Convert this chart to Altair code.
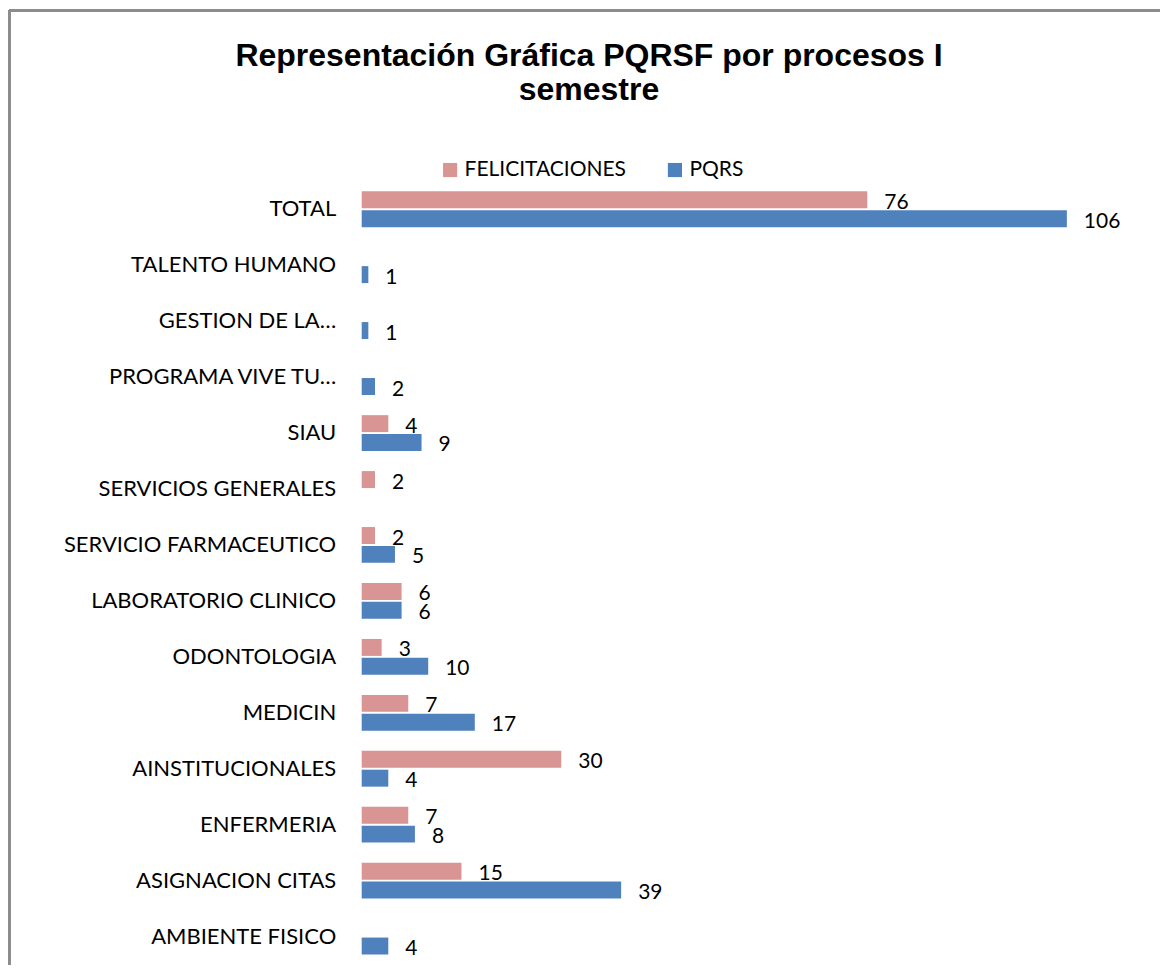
import altair as alt
import pandas as pd

categories = [
    "TOTAL", "TALENTO HUMANO", "GESTION DE LA…", "PROGRAMA VIVE TU…", "SIAU",
    "SERVICIOS GENERALES", "SERVICIO FARMACEUTICO", "LABORATORIO CLINICO",
    "ODONTOLOGIA", "MEDICIN", "AINSTITUCIONALES", "ENFERMERIA",
    "ASIGNACION CITAS", "AMBIENTE FISICO",
]
felicitaciones = [76, None, None, None, 4, 2, 2, 6, 3, 7, 30, 7, 15, None]
pqrs = [106, 1, 1, 2, 9, None, 5, 6, 10, 17, 4, 8, 39, 4]
series = ["FELICITACIONES", "PQRS"]
colors = ["#D99594", "#4F81BD"]

rows = []
for i, c in enumerate(categories):
    if felicitaciones[i] is not None:
        rows.append({"proceso": c, "serie": series[0], "valor": felicitaciones[i]})
    if pqrs[i] is not None:
        rows.append({"proceso": c, "serie": series[1], "valor": pqrs[i]})
df = pd.DataFrame(rows)

FONT = "Lato"
STEP = 56
H = STEP * len(categories)
W = 799

y_enc = alt.Y("proceso:N", sort=categories,
              scale=alt.Scale(paddingInner=0.36, paddingOuter=0.18),
              axis=alt.Axis(title=None, ticks=False, domain=False, grid=False,
                            labelPadding=26, labelFontSize=22, labelFont=FONT,
                            labelColor="#000000", labelLimit=340))
yoff = alt.YOffset("serie:N", sort=series, scale=alt.Scale(paddingInner=0.1))

bars = alt.Chart(df).mark_bar().encode(
    x=alt.X("valor:Q", scale=alt.Scale(domain=[0, 120]), axis=None),
    y=y_enc,
    yOffset=yoff,
    color=alt.Color("serie:N", sort=series,
                    scale=alt.Scale(domain=series, range=colors),
                    legend=alt.Legend(title=None, orient="none", direction="horizontal",
                                      legendX=78, legendY=-22, symbolType="square",
                                      symbolSize=200, symbolStrokeWidth=0,
                                      labelFontSize=21, labelFont=FONT, labelLimit=300,
                                      labelColor="#000000", columnPadding=38)),
)

labels = alt.Chart(df).mark_text(align="left", baseline="middle", dx=17, dy=3,
                                  fontSize=21, font=FONT, color="#000000").encode(
    x=alt.X("valor:Q"),
    y=alt.Y("proceso:N", sort=categories),
    yOffset=yoff,
    text=alt.Text("valor:Q"),
)

left_border = alt.Chart(df).mark_rule(color="#8c8c8c", strokeWidth=3).encode(
    x=alt.value(-353), y=alt.value(-171), y2=alt.value(H + 10))
top_border = alt.Chart(df).mark_rule(color="#8c8c8c", strokeWidth=3).encode(
    x=alt.value(-353), x2=alt.value(W + 10), y=alt.value(-171))

chart = alt.layer(bars, labels, left_border, top_border).properties(
    width=W, height=H,
    autosize=alt.AutoSizeParams(type="none"),
    padding={"left": 354, "top": 173, "right": 0, "bottom": 0},
    background="white",
    title=alt.TitleParams(
        text=["Representación Gráfica PQRSF por procesos I", "semestre"],
        font="Liberation Sans", fontSize=32, fontWeight="bold", color="#000000",
        anchor="middle", dx=-172, offset=0, dy=98, lineHeight=34),
).configure_view(stroke=None)

chart.save("out.html", embed_options={"renderer": "svg", "actions": False})
